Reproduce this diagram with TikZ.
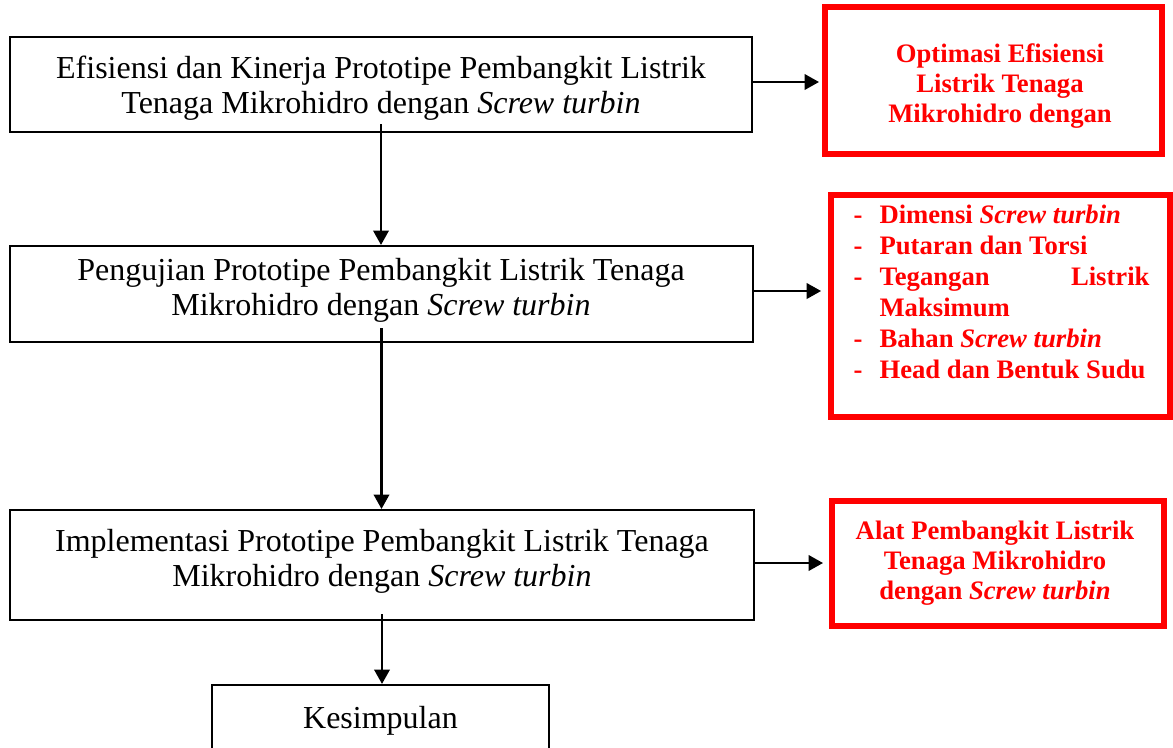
\documentclass[tikz,border=0pt]{standalone}
\usepackage{fontspec}
\setmainfont{Liberation Serif}
\usetikzlibrary{arrows.meta}
\definecolor{rd}{RGB}{255,0,0}
\newcommand\bstrut{\vrule height 10pt depth 0pt width 0pt}
\newcommand\rstrut{\vrule height 9pt depth 0pt width 0pt}
\newcommand\itm{\makebox[9.75pt][l]{-}}
\begin{document}
\begin{tikzpicture}[x=0.375pt,y=-0.375pt,
  box/.style={draw=black, line width=0.8pt, inner sep=0pt},
  rbox/.style={draw=rd, line width=2.25pt, inner sep=0pt},
  btext/.style={font=\fontsize{12}{13.125}\selectfont, align=center, inner sep=0pt, anchor=north},
  rtext/.style={font=\bfseries\fontsize{10}{11.25}\selectfont, text=rd, align=center, inner sep=0pt, anchor=north},
  arr/.style={line width=0.85pt, -{Triangle[length=5.4pt,width=5.8pt]}}]

\useasboundingbox (0,0) rectangle (1173,747);

% left boxes
\node[box, minimum width={742*0.375pt}, minimum height={95*0.375pt}] (b1) at (381,84.5) {};
\node[box, minimum width={743*0.375pt}, minimum height={96*0.375pt}] (b2) at (381.5,294) {};
\node[box, minimum width={744*0.375pt}, minimum height={110*0.375pt}] (b3) at (382,565) {};
\node[box, minimum width={337*0.375pt}, minimum height={67*0.375pt}] (b4) at (380.5,718.5) {};

\node[btext] (t1) at (381,51.3) {\bstrut Efisiensi dan Kinerja Prototipe Pembangkit Listrik\\Tenaga Mikrohidro dengan \textit{Screw turbin}};
\node[btext] (t2) at (381,253.3) {\bstrut Pengujian Prototipe Pembangkit Listrik Tenaga\\Mikrohidro dengan \textit{Screw turbin}};
\node[btext] (t3) at (382,524.3) {\bstrut Implementasi Prototipe Pembangkit Listrik Tenaga\\Mikrohidro dengan \textit{Screw turbin}};
\node[btext] (t4) at (380.5,701.3) {\bstrut Kesimpulan};

% red boxes
\node[rbox, minimum width={337*0.375pt}, minimum height={147*0.375pt}] (rA) at (993.5,80.5) {};
\node[rbox, minimum width={339*0.375pt}, minimum height={222*0.375pt}] (rB) at (1000.5,306) {};
\node[rbox, minimum width={332*0.375pt}, minimum height={125*0.375pt}] (rC) at (998,563.5) {};

\node[rtext] (tA) at (1000,38) {\rstrut Optimasi Efisiensi\\Listrik Tenaga\\Mikrohidro dengan};
\node[rtext] (tC) at (995,515) {\rstrut Alat Pembangkit Listrik\\Tenaga Mikrohidro\\dengan \textit{Screw turbin}};
\node[rtext, anchor=north west, align=justify, text width={296*0.375pt}] (tB) at (853,199) {%
\baselineskip=11.625pt\parskip=0pt\hyphenpenalty=10000\exhyphenpenalty=10000
\noindent\rstrut\itm\mbox{Dimensi \textit{Screw turbin}}\par
\noindent\itm\mbox{Putaran dan Torsi}\par
\noindent\hangindent=9.75pt\hangafter=1\itm Tegangan Listrik Maksimum\par
\noindent\itm\mbox{Bahan \textit{Screw turbin}}\par
\noindent\itm\mbox{Head dan Bentuk Sudu}\par};

% vertical connectors
\draw[arr] ([yshift=3.375pt]b1.south) -- (b1.south |- b2.north);
\draw[arr] ([yshift=5.625pt]b2.south) -- (b2.south |- b3.north);
\draw[arr] ([yshift=2.625pt]b3.south) -- (b3.south |- b4.north);

% horizontal connectors
\draw[arr, shorten >=1.125pt] (b1.east |- 0,82) -- (rA.west |- 0,82);
\draw[arr, shorten >=2.6pt] (b2.east |- 0,291) -- (rB.west |- 0,291);
\draw[arr, shorten >=2.25pt] (b3.east |- 0,563) -- (rC.west |- 0,563);
\end{tikzpicture}
\end{document}
